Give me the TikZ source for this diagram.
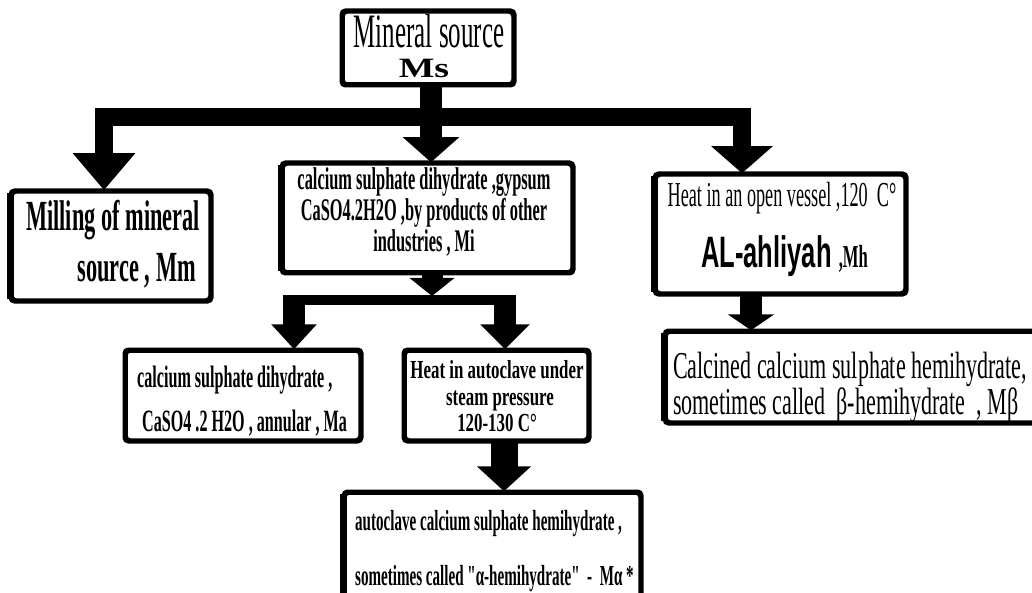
\documentclass[tikz,border=0pt]{standalone}
\usepackage{fontspec}
\usepackage{graphicx}
\setmainfont{Liberation Serif}
\newfontfamily\cserif[FakeStretch=0.52]{Liberation Serif}
\newfontfamily\cserifq[FakeStretch=0.52,Ligatures=TeXOff]{Liberation Serif}
\newfontfamily\cserifw[FakeStretch=0.58]{Liberation Serif}
\newfontfamily\cserifb[FakeStretch=0.65]{Liberation Serif}
\newfontfamily\csans[FakeStretch=0.58]{Liberation Sans}
\newfontfamily\wserif{Liberation Serif}
\usetikzlibrary{arrows.meta}
\tikzset{
  box/.style={draw=black, line width=3.5pt, rounded corners=4pt, fill=white, inner sep=0pt},
  txt/.style={inner sep=0pt, anchor=base, text=black},
  txtl/.style={inner sep=0pt, anchor=base west, text=black},
  fatline/.style={draw=black, line width=#1, line join=miter},
}
\begin{document}
\begin{tikzpicture}[x=1pt,y=-1pt]
\path[clip, use as bounding box] (0,0) rectangle (1032,593);
\fill[white] (0,0) rectangle (1032,593);

% boxes (empty frames)
\node[box, minimum width=170pt, minimum height=72pt] (ms) at (428,48) {};
\node[box, minimum width=198pt, minimum height=108pt] (mm) at (111,246) {};
\node[box, minimum width=289pt, minimum height=108pt] (mi) at (427.5,218) {};
\node[box, minimum width=249pt, minimum height=118pt] (heat) at (780.5,234) {};
\node[box, minimum width=234pt, minimum height=89pt] (ma) at (243,395.5) {};
\node[box, minimum width=183pt, minimum height=89pt] (au) at (496.5,395.5) {};
\node[box, minimum width=295pt, minimum height=127pt] (bot) at (492.5,556.5) {};
\node[box, minimum width=394pt, minimum height=90pt] (beta) at (863,377) {};

% junction coordinates
\coordinate (a1) at (431,0);
\coordinate (jl) at (104,117);
\coordinate (jr) at (742,117);
\coordinate (m0) at (432,296);
\coordinate (b2l) at (283,300);
\coordinate (b2r) at (516,300);
\coordinate (s2l) at (294,295);
\coordinate (s2r) at (505,295);
\coordinate (hb) at (751,0);
\coordinate (ab) at (504,0);

% connectors from Ms
\draw[fatline=18pt, -{Triangle[length=37pt,width=60pt]}] (jr) -- (jl) -- (jl |- mm.north);
\draw[fatline=18pt, -{Triangle[length=27pt,width=60pt]}] (jl) -- (jr) -- (jr |- heat.north);
\draw[fatline=22pt, -{Triangle[length=25pt,width=55pt]}] (a1 |- ms.south) -- (a1 |- mi.north);

% connectors from Mi
\draw[fatline=21pt, -{Triangle[length=18pt,width=44pt]}] (m0 |- mi.south) -- (m0);
\draw[fatline=10pt] (b2l) -- (b2r);
\draw[fatline=22pt, -{Triangle[length=25pt,width=44pt]}] (s2l) -- (s2l |- ma.north);
\draw[fatline=22pt, -{Triangle[length=25pt,width=48pt]}] (s2r) -- (s2r |- au.north);

% other connectors
\draw[fatline=22pt, -{Triangle[length=16pt,width=46pt]}] (hb |- heat.south) -- (hb |- beta.north);
\draw[fatline=27pt, -{Triangle[length=25pt,width=53pt]}] (ab |- au.south) -- (ab |- bot.north);

% redraw frames above the stems
\foreach \b in {ms,mm,mi,heat,ma,au,bot,beta}
  \draw[line width=3.5pt, rounded corners=4pt] (\b.north west) rectangle (\b.south east);
% thicker left edges
\foreach \b in {mm,mi,heat,bot,beta}
  \draw[line width=3pt] ([xshift=-2pt,yshift=-3pt]\b.north west) -- ([xshift=-2pt,yshift=3pt]\b.south west);

% texts
\node[txt] (ms1) at (429,48) {\cserif\fontsize{48}{50}\selectfont Mineral source};
\node[txt] (ms2) at (424,78) {\wserif\bfseries\fontsize{28}{30}\selectfont\scalebox{1.35}[1]{Ms}};

\node[txt] (mm1) at (113,231) {\cserif\bfseries\fontsize{43}{45}\selectfont Milling of mineral};
\node[txt, anchor=base east] (mm2) at (196,282) {\cserif\bfseries\fontsize{43}{45}\selectfont source , Mm};

\node[txt] (mi1) at (424,190) {\cserif\bfseries\fontsize{31.5}{33}\selectfont calcium sulphate dihydrate ,gypsum};
\node[txt] (mi2) at (424,221) {\cserif\bfseries\fontsize{31.5}{33}\selectfont CaSO4.2H2O ,by products of other};
\node[txt] (mi3) at (424,252) {\cserif\bfseries\fontsize{31.5}{33}\selectfont industries , Mi};

\node[txt] (h1) at (782,207) {\cserif\fontsize{35}{37}\selectfont Heat in an open vessel ,120\ \ C°};
\node[txtl] (h2) at (701,268) {\csans\bfseries\fontsize{44}{46}\selectfont AL-ahliyah\ {\cserif\fontsize{32}{34}\selectfont ,Mh}};

\node[txtl] (ma1) at (137,387) {\cserif\bfseries\fontsize{31}{33}\selectfont calcium sulphate dihydrate ,};
\node[txtl] (ma2) at (142,431) {\cserif\bfseries\fontsize{31}{33}\selectfont CaSO4 .2 H2O , annular , Ma};

\node[txt] (au1) at (497,378) {\cserifb\bfseries\fontsize{26}{28}\selectfont Heat in autoclave under};
\node[txt] (au2) at (500,405) {\cserifb\bfseries\fontsize{26}{28}\selectfont steam pressure};
\node[txt] (au3) at (497,431) {\cserifb\bfseries\fontsize{26}{28}\selectfont 120-130 C°};

\node[txtl] (bt1) at (355,530) {\cserifq\bfseries\fontsize{29}{31}\selectfont autoclave calcium sulphate hemihydrate ,};
\node[txtl] (bt2) at (355,585) {\cserifq\bfseries\fontsize{29}{31}\selectfont sometimes called "α-hemihydrate"\ \ -\ \ Mα *};

\node[txtl] (be1) at (673,378) {\cserifw\fontsize{38}{40}\selectfont Calcined calcium sulphate hemihydrate,};
\node[txtl] (be2) at (673,414) {\cserifw\fontsize{38}{40}\selectfont sometimes called\ \ β-hemihydrate\ \ , Mβ};
\end{tikzpicture}
\end{document}
